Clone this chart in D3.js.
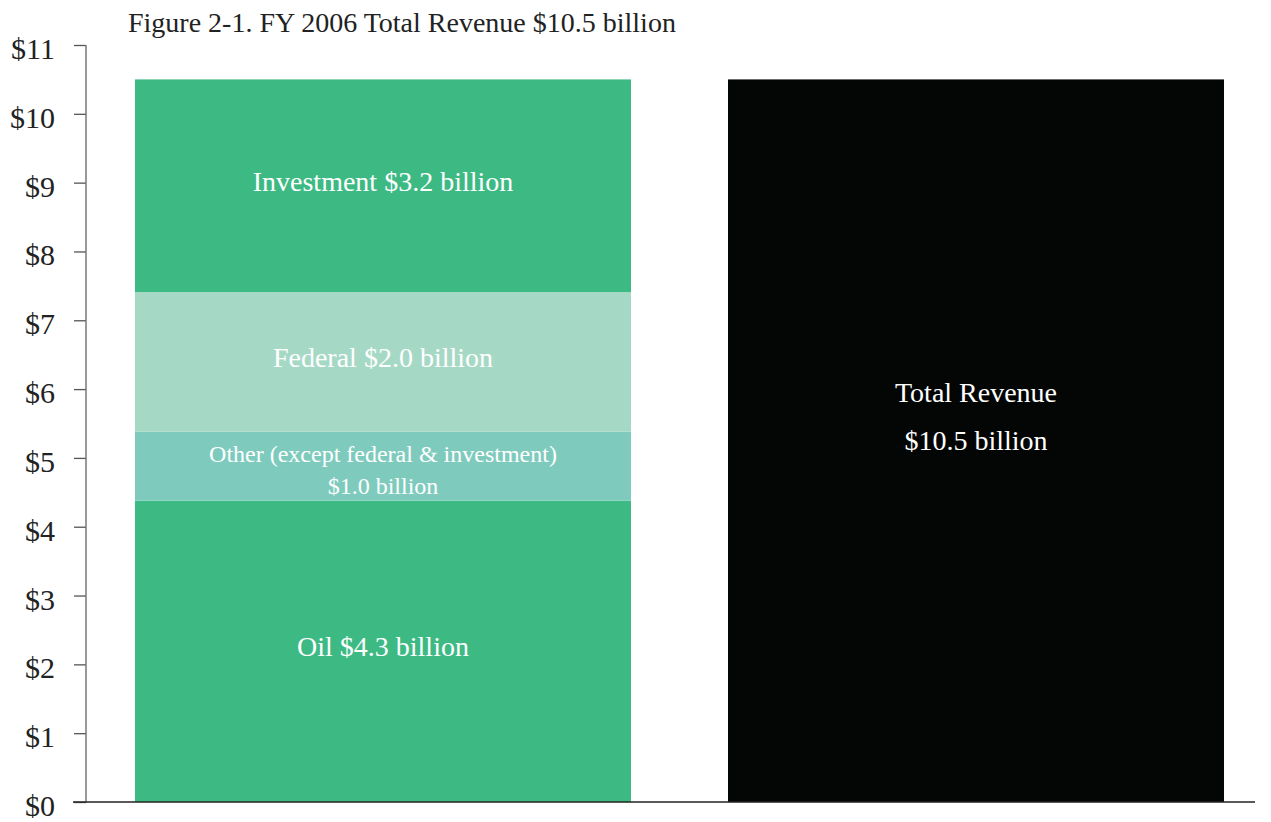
<!DOCTYPE html>
<html>
<head>
<meta charset="utf-8">
<script src="https://cdn.jsdelivr.net/npm/d3@7"></script>
<style>
  body { margin: 0; background: #fff; }
  text { font-family: "Liberation Serif", "DejaVu Serif", serif; }
</style>
</head>
<body>
<script>
// data
var categories = ["Sources", "Total"];
var segNames = ["Oil", "Other", "Federal", "Investment"];
var segValues = [4.38, 1.0, 2.03, 3.09];
var segLabels = [["Oil $4.3 billion"], ["Other (except federal & investment)", "$1.0 billion"], ["Federal $2.0 billion"], ["Investment $3.2 billion"]];
var segColors = ["#3dba84", "#7ecbbd", "#a6d9c5", "#3dba84"];
var totalValue = 10.5;
var totalLabel = ["Total Revenue", "$10.5 billion"];
var yTicks = [0, 1, 2, 3, 4, 5, 6, 7, 8, 9, 10, 11];

var svgWidth = 1271, svgHeight = 822;
var margin = { top: 45, right: 16, bottom: 20, left: 86 };
var width = svgWidth - margin.left - margin.right;
var height = svgHeight - margin.top - margin.bottom;

var svg = d3.select("body").append("svg")
  .attr("width", svgWidth)
  .attr("height", svgHeight);

var chart = svg.append("g")
  .attr("transform", `translate(${margin.left}, ${margin.top})`);

var x = d3.scaleBand()
  .domain(categories)
  .range([0, 1187])
  .paddingInner(0.1636)
  .paddingOuter(0.0826);

var y = d3.scaleLinear()
  .domain([0, 11])
  .range([height, 0]);

// stacked segments
var stack = [];
var acc = 0;
segValues.forEach(function(v, i) {
  stack.push({ name: segNames[i], y0: acc, y1: acc + v, color: segColors[i], label: segLabels[i] });
  acc += v;
});

chart.selectAll(".seg")
  .data(stack)
  .enter().append("rect")
  .attr("class", "seg")
  .attr("x", x("Sources"))
  .attr("width", x.bandwidth())
  .attr("y", d => y(d.y1))
  .attr("height", d => y(d.y0) - y(d.y1))
  .attr("fill", d => d.color);

chart.append("rect")
  .attr("x", x("Total"))
  .attr("width", x.bandwidth())
  .attr("y", y(totalValue))
  .attr("height", y(0) - y(totalValue))
  .attr("fill", "#030605");

// segment labels
stack.forEach(function(d) {
  var cx = x("Sources") + x.bandwidth() / 2;
  var cy = (y(d.y0) + y(d.y1)) / 2;
  var small = d.label.length > 1;
  var fs = small ? 24 : 28;
  var lh = small ? 32 : 0;
  var shift = small ? 3 : -5;
  var t = chart.append("text")
    .attr("text-anchor", "middle")
    .attr("fill", "#fff")
    .style("font-size", fs + "px");
  d.label.forEach(function(line, j) {
    t.append("tspan")
      .attr("x", cx)
      .attr("y", cy + shift + (j - (d.label.length - 1) / 2) * lh)
      .attr("dy", "0.35em")
      .text(line);
  });
});

var tx = x("Total") + x.bandwidth() / 2;
chart.selectAll(".tot")
  .data(totalLabel)
  .enter().append("text")
  .attr("x", tx)
  .attr("y", (d, i) => y(totalValue / 2) - 25 + (i - 0.5) * 48)
  .attr("dy", "0.35em")
  .attr("text-anchor", "middle")
  .attr("fill", "#fff")
  .style("font-size", "28px")
  .text(d => d);

// y axis
var yAxis = d3.axisLeft(y)
  .tickValues(yTicks)
  .tickSize(12)
  .tickPadding(19)
  .tickFormat(d => "$" + d);

var ya = chart.append("g").call(yAxis);
ya.select(".domain").remove();
ya.selectAll(".tick line").attr("stroke", "#555").attr("stroke-width", 1.3);
ya.selectAll(".tick text")
  .style("font-size", "30px")
  .attr("fill", "#222")
  .attr("dy", "0.45em");

chart.append("line")
  .attr("x1", 0).attr("x2", 0)
  .attr("y1", y(11)).attr("y2", y(0))
  .attr("stroke", "#777")
  .attr("stroke-width", 1.5);

// baseline
chart.append("line")
  .attr("x1", -13).attr("x2", width)
  .attr("y1", y(0)).attr("y2", y(0))
  .attr("stroke", "#222")
  .attr("stroke-width", 1.5);

// title
svg.append("text")
  .attr("x", 128)
  .attr("y", 32)
  .attr("fill", "#222")
  .style("font-size", "28px")
  .text("Figure 2-1. FY 2006 Total Revenue $10.5 billion");
</script>
</body>
</html>
